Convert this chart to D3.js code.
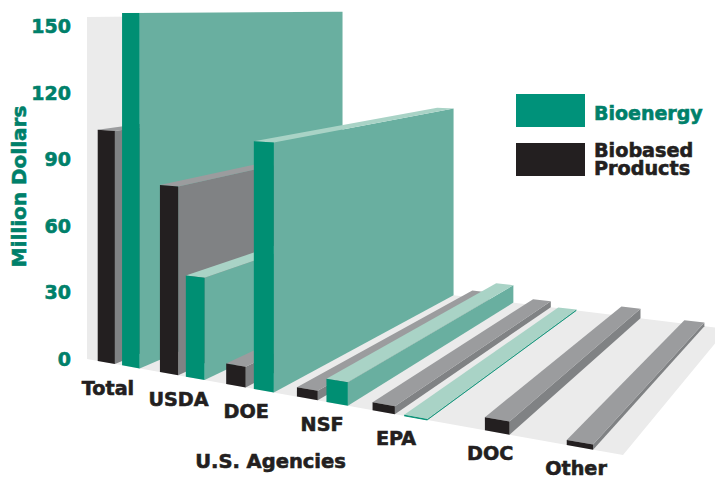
<!DOCTYPE html>
<html><head><meta charset="utf-8">
<script src="https://cdn.jsdelivr.net/npm/d3@7/dist/d3.min.js"></script>
<style>html,body{margin:0;padding:0;background:#fff}svg{display:block}
text{font-family:"DejaVu Sans";font-weight:700}</style></head>
<body><svg id="c" width="715" height="477"></svg>
<script>
const categories=["Total","USDA","DOE","NSF","EPA","DOC","Other"];
const series=["Biobased Products","Bioenergy"];
const biobased=[103.2,81,8.6,3.8,3.1,4.9,1.8];
const bioenergy=[155.4,43.3,102.5,9.3,0.4,0,0];
const yTicks=[0,30,60,90,120,150];

// layout
const W=715,H=477,horizonY=8,eyeValue=157.6,wallValue=153.6;
const corners=[[87,359],[623,455],[727,329],[298,276]];
const green="#00927a",ink="#231f20",greenText="#00806a",heavy=0.6;
const pal={"Bioenergy":{front:"#008f73",side:"#69afa0",top:"#a9d3c6"},
           "Biobased Products":{front:ink,side:"#808284",top:"#9b9c9e"}};
const slotShift={DOC:0.92,Other:0.71};
const labelNudge={Total:-10.5,USDA:-3.5,DOE:-3.5,NSF:0,EPA:-3.5,DOC:7.5,Other:4};

const [[x0,y0],[x1,y1],[x2,y2],[x3,y3]]=corners;
const sx=x0-x1+x2-x3,sy=y0-y1+y2-y3,dx1=x1-x2,dx2=x3-x2,dy1=y1-y2,dy2=y3-y2,den=dx1*dy2-dx2*dy1;
const g=(sx*dy2-dx2*sy)/den,h=(dx1*sy-sx*dy1)/den;
const a=x1-x0+g*x1,b=x3-x0+h*x3,d=y1-y0+g*y1,e=y3-y0+h*y3;
const lift=d3.scaleLinear().domain([0,eyeValue]).range([0,1]);
function proj(u,v,val=0){
  const w=g*u+h*v+1,x=(a*u+b*v+x0)/w,y=(d*u+e*v+y0)/w;
  return [x,y-lift(val)*(y-horizonY)];
}
const xGroup=d3.scaleBand().domain(categories).range([0.0253,1.0172]);
const xInner=d3.scaleBand().domain(series).range([0,0.0965]).paddingInner(0.292);
const slotStep=xInner.step();

const svg=d3.select("#c");
const line=p=>"M"+p.map(q=>q.map(n=>n.toFixed(2)).join(",")).join("L")+"Z";

// wall and floor
svg.append("path").attr("fill","#ebebeb").attr("d",line([proj(0,0,wallValue),proj(0,1,wallValue),proj(0,1),proj(1,1),proj(1,0),proj(0,0)]));

// bars, left to right
const bars=[];
categories.forEach((c,i)=>{
  bars.push({c,s:series[0],v:biobased[i],shift:slotShift[c]||0});
  if(bioenergy[i]>0)bars.push({c,s:series[1],v:bioenergy[i],shift:0});
});
const gBars=svg.append("g");
bars.forEach(o=>{
  const u0=xGroup(o.c)+xInner(o.s)+o.shift*slotStep,u1=u0+xInner.bandwidth(),col=pal[o.s];
  const gg=gBars.append("g");
  gg.append("path").attr("fill",col.side).attr("d",line([proj(u1,0),proj(u1,1),proj(u1,1,o.v),proj(u1,0,o.v)]));
  gg.append("path").attr("fill",col.top).attr("d",line([proj(u0,0,o.v),proj(u1,0,o.v),proj(u1,1,o.v),proj(u0,1,o.v)]));
  gg.append("path").attr("fill",col.front).attr("d",line([proj(u0,0),proj(u1,0),proj(u1,0,o.v),proj(u0,0,o.v)]));
  if(o.v<1)gg.append("path").attr("fill","none").attr("stroke",col.front).attr("stroke-width",0.9)
     .attr("d","M"+[proj(u0,0),proj(u1,0),proj(u1,1),].map(q=>q.join(",")).join("L"));
});

// value axis
const y=d3.scaleLinear().domain([0,150]).range([358.3,26]);
const ax=svg.append("g").attr("transform","translate(71,0)").call(d3.axisLeft(y).tickValues(yTicks).tickSize(0).tickPadding(0));
ax.select(".domain").remove();
ax.selectAll("text").attr("fill",greenText).attr("stroke",greenText).attr("stroke-width",heavy)
  .style("font-family","DejaVu Sans").style("font-weight",700).style("font-size","19px").attr("dy","0.36em");
svg.append("text").attr("transform","translate(25.5,186.5) rotate(-90)").attr("text-anchor","middle")
  .attr("fill",greenText).attr("stroke",greenText).attr("stroke-width",heavy).style("font-size","20px").text("Million Dollars");

// category labels
categories.forEach(c=>{
  const u=xGroup(c)+xInner.range()[1]/2,p=proj(u,0);
  svg.append("text").attr("x",p[0]+labelNudge[c]).attr("y",Math.min(p[1]+30,475)).attr("text-anchor","middle")
    .attr("fill",ink).attr("stroke",ink).attr("stroke-width",heavy).style("font-size","19.2px").text(c);
});
svg.append("text").attr("x",270.5).attr("y",468).attr("text-anchor","middle").attr("fill",ink).attr("stroke",ink).attr("stroke-width",heavy)
  .style("font-size","19.5px").text("U.S. Agencies");

// legend
const lg=svg.append("g");
lg.append("rect").attr("x",516).attr("y",94).attr("width",69).attr("height",33).attr("fill",green);
lg.append("rect").attr("x",516).attr("y",143).attr("width",69).attr("height",33).attr("fill",ink);
lg.append("text").attr("x",594).attr("y",119.5).attr("fill",greenText).attr("stroke",greenText).attr("stroke-width",heavy).style("font-size","19px").text("Bioenergy");
series[0].split(" ").forEach((t,i)=>lg.append("text").attr("x",594).attr("y",157+i*18).attr("fill",ink).attr("stroke",ink).attr("stroke-width",heavy).style("font-size","19.2px").text(t));
</script></body></html>
